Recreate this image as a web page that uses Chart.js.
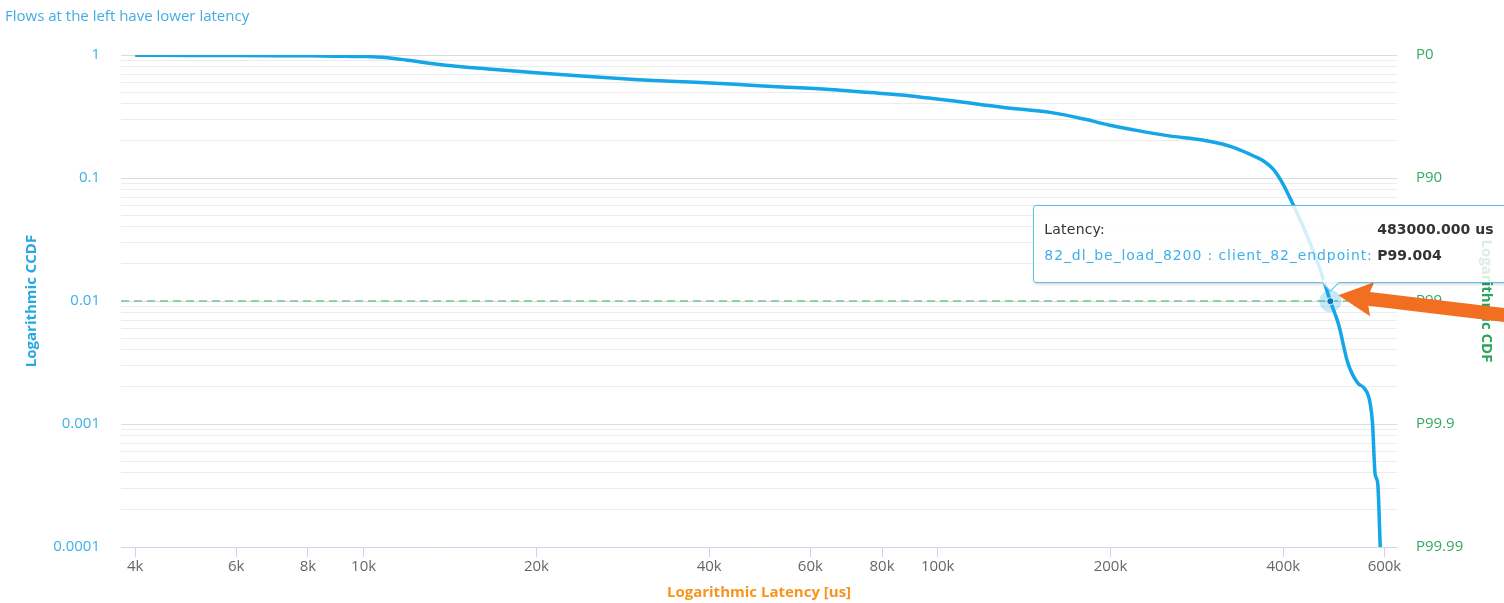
<!DOCTYPE html>
<html>
<head>
<meta charset="utf-8">
<title>Latency CCDF</title>
<script src="https://cdn.jsdelivr.net/npm/chart.js@4.4.1/dist/chart.umd.min.js"></script>
<style>
  html, body { margin: 0; padding: 0; background: #ffffff; overflow: hidden; }
  #wrap { position: relative; width: 1504px; height: 603px; overflow: hidden; }
  #wrap canvas { position: absolute; left: 0; top: 0; }
  #flow-tip {
    position: absolute;
    width: 560px;
    box-sizing: border-box;
    padding: 10px 10px 14px 10px;
    background: rgba(255, 255, 255, 0.82);
    border: 1px solid #5cbfec;
    border-radius: 3px;
    box-shadow: 1px 1px 3px rgba(0, 0, 0, 0.2);
    font-family: "DejaVu Sans", sans-serif;
    font-size: 14px;
    color: #333333;
    pointer-events: none;
  }
  #flow-tip table { border-collapse: collapse; table-layout: fixed; }
  #flow-tip td { padding: 0; height: 26px; white-space: nowrap; vertical-align: middle; }
  #flow-tip td.k { width: 333px; letter-spacing: 0.2px; }
  #flow-tip td.series { color: #3fb1e8; letter-spacing: 0.9px; }
  #flow-tip td.v { font-weight: bold; }
  #flow-tip .notch {
    position: absolute;
    width: 12px; height: 12px;
    background: rgba(255, 255, 255, 0.82);
    border-right: 1px solid #5cbfec;
    border-bottom: 1px solid #5cbfec;
    transform: rotate(45deg);
  }
</style>
</head>
<body>
<div id="wrap"><canvas id="cdf" width="1504" height="603"></canvas></div>
<script>
// Latency samples of the flow (microseconds) and the complementary CDF at each one
const latencyUs = [
  4000, 5000, 6000, 7000, 8000, 9000, 10000, 10900, 11950, 13900,
  16500, 20500, 25000, 30100, 37900, 45000, 51600, 64800, 75500, 86500,
  95300, 105900, 129400, 158000, 180700, 198600, 220000, 253000, 289000, 313000,
  331000, 355000, 370000, 384000, 398000, 415000, 438000, 462000, 483000, 499000,
  518000, 539000, 553000, 565000, 572000, 578000, 584000, 590000
];
const ccdf = [
  0.995, 0.993, 0.99, 0.987, 0.984, 0.979, 0.972, 0.955, 0.905, 0.825,
  0.77, 0.71, 0.665, 0.63, 0.60, 0.575, 0.555, 0.525, 0.497, 0.473,
  0.45, 0.425, 0.376, 0.34, 0.30, 0.27, 0.246, 0.22, 0.204, 0.189,
  0.174, 0.151, 0.137, 0.118, 0.092, 0.0622, 0.0356, 0.0189, 0.00996, 0.0065,
  0.00314, 0.00215, 0.00196, 0.00157, 0.00101, 0.00039, 0.000331, 0.0001
];

// Axis ticks
const xTickValues = [4000, 6000, 8000, 10000, 20000, 40000, 60000, 80000, 100000, 200000, 400000, 600000];
const xTickLabels = ['4k', '6k', '8k', '10k', '20k', '40k', '60k', '80k', '100k', '200k', '400k', '600k'];
const yTickValues = [0.0001, 0.001, 0.01, 0.1, 1];
const ccdfTickLabels = ['0.0001', '0.001', '0.01', '0.1', '1'];
const cdfTickLabels = ['P99.99', 'P99.9', 'P99', 'P90', 'P0'];

// Reference level and the highlighted sample
const p99Level = 0.01;
const focusLatency = 483000;
const flowName = '82_dl_be_load_8200 : client_82_endpoint';

const FONT = "'Open Sans', sans-serif";
Chart.defaults.font.family = FONT;

function labelAt(value, values, labels) {
  const i = values.findIndex(v => Math.abs(Math.log10(v) - Math.log10(value)) < 1e-6);
  return i < 0 ? '' : labels[i];
}

// 1..9 x 10^n grid positions between min and max
function logGridTicks(min, max) {
  const out = [];
  for (let e = Math.floor(Math.log10(min)); e <= Math.ceil(Math.log10(max)); e++) {
    for (let s = 1; s < 10; s++) {
      const v = +(s * Math.pow(10, e)).toPrecision(6);
      if (v >= min * 0.999 && v <= max * 1.001) out.push({ value: v, major: s === 1 });
    }
  }
  return out;
}

// Dashed P99 guide and the halo behind the highlighted sample
const p99Guide = {
  id: 'p99Guide',
  beforeDatasetsDraw(chart) {
    const { ctx, chartArea, scales } = chart;
    const y = scales.y.getPixelForValue(p99Level);
    ctx.save();
    ctx.strokeStyle = '#6fc78f';
    ctx.lineWidth = 1.6;
    ctx.setLineDash([8, 5]);
    ctx.beginPath();
    ctx.moveTo(chartArea.left, y);
    ctx.lineTo(chartArea.right, y);
    ctx.stroke();
    ctx.setLineDash([]);
    chart.getActiveElements().forEach(a => {
      ctx.beginPath();
      ctx.arc(a.element.x, a.element.y, 11, 0, Math.PI * 2);
      ctx.fillStyle = 'rgba(20, 166, 230, 0.25)';
      ctx.fill();
    });
    ctx.restore();
  }
};

// Orange call-out arrow pointing at the highlighted sample
const pointerArrow = {
  id: 'pointerArrow',
  afterDraw(chart) {
    const act = chart.getActiveElements();
    if (!act.length) return;
    const el = act[0].element;
    const { ctx } = chart;
    const tipX = el.x + 8, tipY = el.y - 6;
    const angle = Math.atan2(16, 134);
    const headLen = 34, headHalf = 17, shaftHalf = 7;
    ctx.save();
    ctx.translate(tipX, tipY);
    ctx.rotate(angle);
    ctx.fillStyle = '#f26f21';
    ctx.beginPath();
    ctx.moveTo(0, 0);
    ctx.lineTo(headLen, -headHalf);
    ctx.lineTo(headLen - 3, -shaftHalf);
    ctx.lineTo(400, -shaftHalf);
    ctx.lineTo(400, shaftHalf);
    ctx.lineTo(headLen - 3, shaftHalf);
    ctx.lineTo(headLen, headHalf);
    ctx.closePath();
    ctx.fill();
    ctx.restore();
  }
};

// HTML tooltip for the highlighted sample
function flowTooltip(context) {
  const { tooltip } = context;
  let el = document.getElementById('flow-tip');
  if (!el) {
    el = document.createElement('div');
    el.id = 'flow-tip';
    document.getElementById('wrap').appendChild(el);
  }
  if (tooltip.opacity === 0 || !tooltip.dataPoints || !tooltip.dataPoints.length) {
    el.style.display = 'none';
    return;
  }
  const p = tooltip.dataPoints[0].parsed;
  const percentile = 'P' + ((1 - p.y) * 100).toFixed(3);
  el.innerHTML =
    '<table>' +
    '<tr><td class="k">Latency:</td><td class="v">' + p.x.toFixed(3) + ' us</td></tr>' +
    '<tr><td class="k series">' + flowName + ':</td><td class="v">' + percentile + '</td></tr>' +
    '</table><div class="notch"></div>';
  el.style.display = 'block';
  el.style.left = (tooltip.caretX - 297) + 'px';
  el.style.top = (tooltip.caretY - 96) + 'px';
  const notch = el.querySelector('.notch');
  notch.style.left = (297 - 7) + 'px';
  notch.style.bottom = '-7px';
}

const chart = new Chart(document.getElementById('cdf'), {
  type: 'line',
  data: {
    datasets: [{
      label: flowName,
      data: latencyUs.map((x, i) => ({ x, y: ccdf[i] })),
      borderColor: '#14a6e6',
      borderWidth: 3.5,
      pointRadius: 0,
      pointHitRadius: 0,
      pointHoverRadius: 3.5,
      pointHoverBackgroundColor: '#1170b8',
      pointHoverBorderColor: '#d6f0fb',
      pointHoverBorderWidth: 1,
      cubicInterpolationMode: 'monotone',
      fill: false
    }]
  },
  options: {
    responsive: false,
    animation: false,
    devicePixelRatio: 1,
    events: [],
    layout: { padding: { left: 5, top: 0, right: 0, bottom: 0 } },
    plugins: {
      legend: { display: false },
      title: {
        display: true,
        text: 'Flows at the left have lower latency',
        align: 'start',
        color: '#44ace2',
        font: { size: 15, weight: 'normal', lineHeight: 1.2 },
        padding: { top: 8, bottom: 29 }
      },
      tooltip: { enabled: false, external: flowTooltip }
    },
    scales: {
      x: {
        type: 'logarithmic',
        position: 'bottom',
        min: 3780,
        max: 631000,
        afterBuildTicks: s => { s.ticks = xTickValues.map(v => ({ value: v })); },
        afterFit: s => { s.height = 56; },
        grid: { drawOnChartArea: false, drawTicks: true, tickLength: 10, tickColor: '#ccd6eb', color: '#ccd6eb' },
        border: { display: true, color: '#ccd6eb', width: 1 },
        ticks: {
          autoSkip: false, maxRotation: 0, padding: 1, color: '#666666',
          font: { size: 15, lineHeight: 1.2 },
          callback: (v, i) => xTickLabels[i]
        },
        title: {
          display: true, text: 'Logarithmic Latency [us]', color: '#f7941d',
          font: { size: 15, weight: 'bold', lineHeight: 1.2 },
          padding: { top: 0, bottom: 1 }
        }
      },
      y: {
        type: 'logarithmic',
        position: 'left',
        min: 0.0001,
        max: 1,
        afterBuildTicks: s => { s.ticks = logGridTicks(0.0001, 1); },
        afterFit: s => { s.width = 116; },
        grid: { color: c => (c.tick && c.tick.major ? '#dcdcdc' : '#ececec'), drawTicks: false, lineWidth: 1 },
        border: { display: false },
        ticks: {
          autoSkip: false, padding: 21, color: '#3db0e8',
          font: { size: 15, lineHeight: 1.2 },
          callback: v => labelAt(v, yTickValues, ccdfTickLabels)
        },
        title: {
          display: true, text: 'Logarithmic CCDF', color: '#27a7e3',
          font: { size: 15, weight: 'bold', lineHeight: 1.2 },
          padding: { top: 18, bottom: 0 }
        }
      },
      y1: {
        type: 'logarithmic',
        position: 'right',
        min: 0.0001,
        max: 1,
        afterBuildTicks: s => { s.ticks = logGridTicks(0.0001, 1); },
        afterFit: s => { s.width = 107; },
        grid: { drawOnChartArea: false, drawTicks: false },
        border: { display: false },
        ticks: {
          autoSkip: false, padding: 19, color: '#35a862',
          font: { size: 15, lineHeight: 1.2 },
          callback: v => labelAt(v, yTickValues, cdfTickLabels)
        },
        title: {
          display: true, text: 'Logarithmic CDF', color: '#2ea35a',
          font: { size: 15, weight: 'bold', lineHeight: 1.2 },
          padding: { top: 9, bottom: 0 }
        }
      }
    }
  },
  plugins: [p99Guide, pointerArrow]
});

// Highlight the sample that crosses P99
const focusIndex = latencyUs.indexOf(focusLatency);
chart.setActiveElements([{ datasetIndex: 0, index: focusIndex }]);
chart.tooltip.setActiveElements([{ datasetIndex: 0, index: focusIndex }], { x: 0, y: 0 });
chart.update();
</script>
</body>
</html>
